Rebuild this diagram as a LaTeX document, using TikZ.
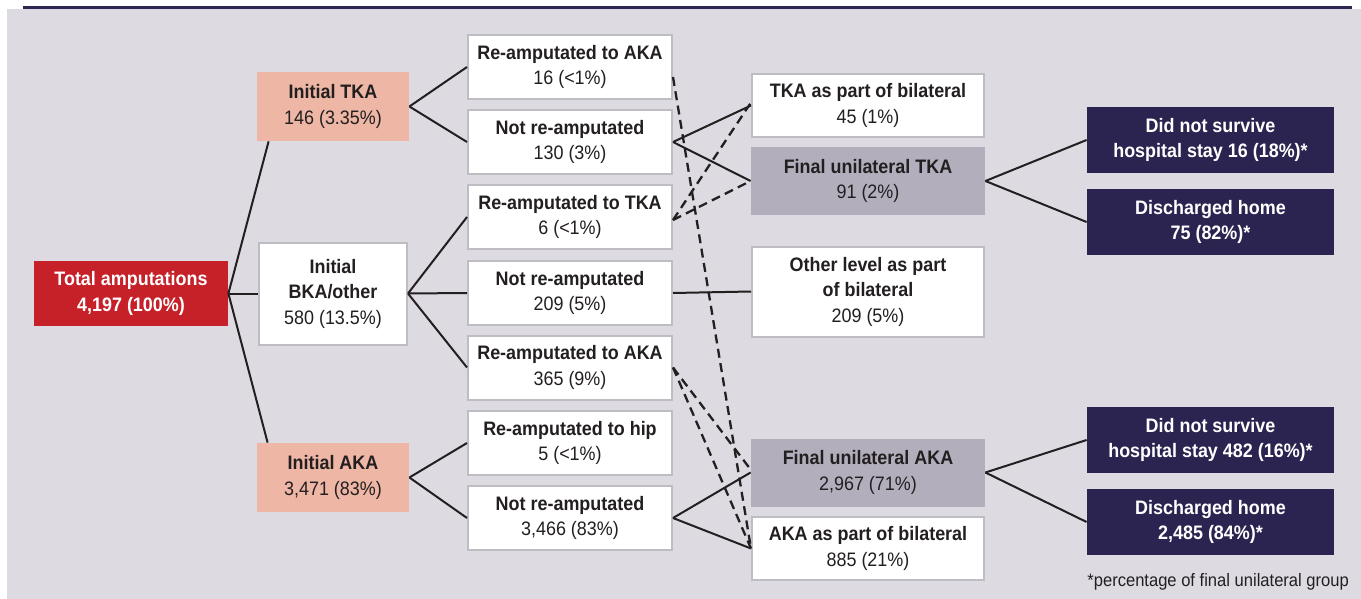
\documentclass[tikz,border=0pt]{standalone}
\usepackage{fontspec}
\setmainfont{Liberation Sans}[FakeStretch=0.92]
\usetikzlibrary{calc}
\definecolor{bgcol}{RGB}{221,218,226}
\definecolor{rulecol}{RGB}{45,38,80}
\definecolor{totred}{RGB}{198,32,40}
\definecolor{salmon}{RGB}{237,182,165}
\definecolor{finalgray}{RGB}{179,174,188}
\definecolor{navy}{RGB}{43,36,80}
\definecolor{boxline}{RGB}{190,189,195}
\definecolor{txt}{RGB}{35,31,32}
\tikzset{>=latex,
  boxfont/.style={font=\fontsize{9.75}{12.75}\selectfont},
  plainbox/.style={boxfont, draw=boxline, line width=1pt, fill=white, text=txt, align=center, inner sep=0pt},
  initbox/.style={boxfont, fill=salmon, text=txt, align=center, inner sep=0pt, minimum width=76pt, minimum height=34.5pt},
  totbox/.style={boxfont, fill=totred, text=white, align=center, inner sep=0pt, minimum width=97pt, minimum height=32.5pt},
  midbox/.style={plainbox, minimum width=102pt, minimum height=32pt},
  finalbox/.style={boxfont, fill=finalgray, text=txt, align=center, inner sep=0pt, minimum width=117pt, minimum height=34pt},
  bilatbox/.style={plainbox, minimum width=116pt, minimum height=31.5pt},
  outbox/.style={boxfont, fill=navy, text=white, align=center, inner sep=0pt, minimum width=123.5pt, minimum height=33pt},
  link/.style={draw=txt, line width=1pt},
  dashlink/.style={link, line width=1.15pt, dash pattern=on 4.5pt off 2.75pt}
}
\begin{document}
\begin{tikzpicture}[x=0.5pt,y=-0.5pt]
\useasboundingbox (0,0) rectangle (1361,599);
\fill[bgcol] (7,9) rectangle (1361,599);
\draw[rulecol, line width=1.5pt] (23,7.5) -- (1352,7.5);

\node[totbox, font=\fontsize{9.75}{12.75}\selectfont\bfseries] (total) at (131,293.5) {Total amputations\\4,197 (100\%)};
\node[initbox] (initTKA) at (333,106.5) {\textbf{Initial TKA}\\146 (3.35\%)};
\node[plainbox, minimum width=74pt, minimum height=51pt] (initBKA) at (333,293.5) {\textbf{Initial}\\\textbf{BKA/other}\\580 (13.5\%)};
\node[initbox] (initAKA) at (333,477.5) {\textbf{Initial AKA}\\3,471 (83\%)};

\node[midbox] (reAKAa) at (570,67) {\textbf{Re-amputated to AKA}\\16 (<1\%)};
\node[midbox] (notreA) at (570,142) {\textbf{Not re-amputated}\\130 (3\%)};
\node[midbox] (reTKA) at (570,217) {\textbf{Re-amputated to TKA}\\6 (<1\%)};
\node[midbox] (notreB) at (570,293) {\textbf{Not re-amputated}\\209 (5\%)};
\node[midbox] (reAKAb) at (570,367.5) {\textbf{Re-amputated to AKA}\\365 (9\%)};
\node[midbox] (rehip) at (570,443) {\textbf{Re-amputated to hip}\\5 (<1\%)};
\node[midbox] (notreC) at (570,518) {\textbf{Not re-amputated}\\3,466 (83\%)};

\node[bilatbox] (bilatTKA) at (868,105.5) {\textbf{TKA as part of bilateral}\\45 (1\%)};
\node[finalbox] (finalTKA) at (868,181) {\textbf{Final unilateral TKA}\\91 (2\%)};
\node[plainbox, minimum width=116pt, minimum height=45pt] (otherlvl) at (868,291.5) {\textbf{Other level as part}\\\textbf{of bilateral}\\209 (5\%)};
\node[finalbox] (finalAKA) at (868,472.5) {\textbf{Final unilateral AKA}\\2,967 (71\%)};
\node[bilatbox] (bilatAKA) at (868,548.5) {\textbf{AKA as part of bilateral}\\885 (21\%)};

\node[outbox, font=\fontsize{9.75}{12.75}\selectfont\bfseries] (diedTKA) at (1210.5,140) {Did not survive\\hospital stay 16 (18\%)*};
\node[outbox, font=\fontsize{9.75}{12.75}\selectfont\bfseries] (homeTKA) at (1210.5,222) {Discharged home\\75 (82\%)*};
\node[outbox, font=\fontsize{9.75}{12.75}\selectfont\bfseries] (diedAKA) at (1210.5,440) {Did not survive\\hospital stay 482 (16\%)*};
\node[outbox, font=\fontsize{9.75}{12.75}\selectfont\bfseries] (homeAKA) at (1210.5,522) {Discharged home\\2,485 (84\%)*};
\node[anchor=west, text=txt, font=\fontsize{9}{11}\selectfont, inner sep=0pt] (footnote) at (1087,582) {*percentage of final unilateral group};

\draw[link] (total.east) -- ($(initTKA.south west)+(12,0)$);
\draw[link] (total.east) -- (initBKA.west);
\draw[link] (total.east) -- ($(initAKA.north west)+(11,0)$);

\draw[link] (initTKA.east) -- (reAKAa.west);
\draw[link] (initTKA.east) -- (notreA.west);
\draw[link] (initBKA.east) -- (reTKA.west);
\draw[link] (initBKA.east) -- (notreB.west);
\draw[link] (initBKA.east) -- (reAKAb.west);
\draw[link] (initAKA.east) -- (rehip.west);
\draw[link] (initAKA.east) -- (notreC.west);

\draw[link] (notreA.east) -- (bilatTKA.west);
\draw[link] (notreA.east) -- (finalTKA.west);
\draw[dashlink] ($(reTKA.east)+(0,3)$) -- ($(bilatTKA.west)+(0,-3)$);
\draw[dashlink] ($(reTKA.east)+(0,3)$) -- (finalTKA.west);
\draw[dashlink] ($(reAKAa.east)+(0,10)$) -- (bilatAKA.west);
\draw[link] (notreB.east) -- (otherlvl.west);
\draw[dashlink] (reAKAb.east) -- ($(finalAKA.west)+(0,-3)$);
\draw[dashlink] (reAKAb.east) -- (bilatAKA.west);
\draw[link] (notreC.east) -- (finalAKA.west);
\draw[link] (notreC.east) -- (bilatAKA.west);

\draw[link] (finalTKA.east) -- (diedTKA.west);
\draw[link] (finalTKA.east) -- (homeTKA.west);
\draw[link] (finalAKA.east) -- (diedAKA.west);
\draw[link] (finalAKA.east) -- (homeAKA.west);
\end{tikzpicture}
\end{document}
